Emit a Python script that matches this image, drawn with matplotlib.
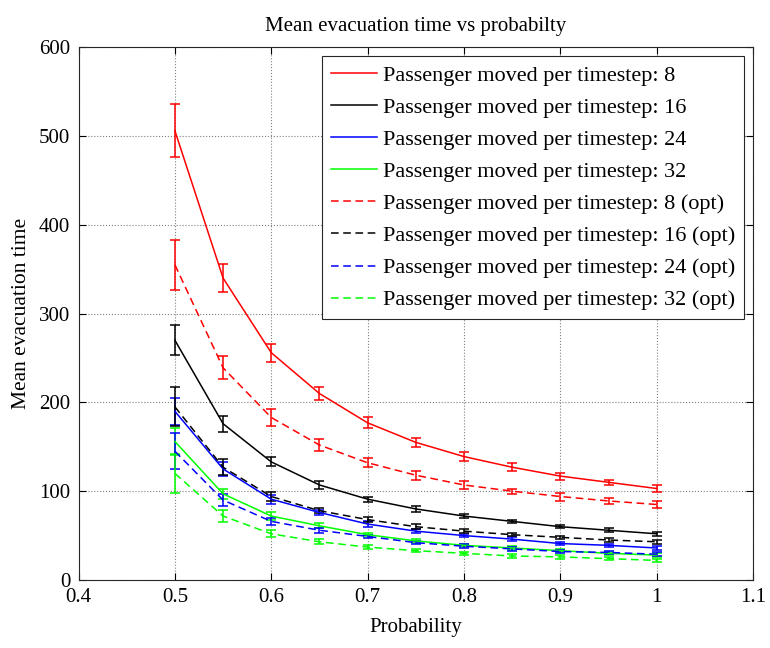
import matplotlib
matplotlib.use("Agg")
import matplotlib.pyplot as plt

plt.rcParams['font.family'] = ['Liberation Serif', 'DejaVu Serif']

# probability values on the x axis
prob = [0.5, 0.55, 0.6, 0.65, 0.7, 0.75, 0.8, 0.85, 0.9, 0.95, 1.0]

# mean evacuation time and error half-widths
t8 = [506, 340, 256, 210, 177, 155, 139, 127, 117, 110, 103]
e8 = [30, 16, 10, 7, 6, 5, 5, 4.5, 4, 3, 4]
t16 = [270, 176, 133, 107, 91, 80, 72, 66, 60, 56, 52]
e16 = [17, 9, 5, 4, 3, 3, 2, 2, 2, 2, 2]
t24 = [190, 125, 91, 76, 63, 55, 50, 46, 41, 39, 36]
e24 = [15, 8, 5, 3, 3, 2, 2, 2, 2, 2, 2]
t32 = [156, 97, 72, 61, 51, 44, 39, 36, 33, 30, 28]
e32 = [15, 6, 4, 3, 2, 2, 2, 2, 2, 2, 2]

t8o = [355, 239, 183, 152, 132, 118, 107, 100, 94, 89, 85]
e8o = [28, 13, 10, 7, 5, 5, 4, 3, 4.5, 3.5, 4]
t16o = [195, 127, 94, 78, 68, 60, 55, 51, 48, 45, 43]
e16o = [22, 9, 5, 3, 3, 3, 2, 2, 2, 2, 2]
t24o = [145, 90, 66, 56, 49, 42, 38, 35, 32, 31, 29]
e24o = [20, 7, 4, 3, 2, 2, 2, 2, 2, 2, 2]
t32o = [120, 72, 52, 43, 37, 33, 30, 27, 26, 24, 22]
e32o = [22, 7, 4, 3, 2, 2, 2, 2, 2, 2, 2]

labels = ['Passenger moved per timestep: 8', 'Passenger moved per timestep: 16',
          'Passenger moved per timestep: 24', 'Passenger moved per timestep: 32',
          'Passenger moved per timestep: 8 (opt)', 'Passenger moved per timestep: 16 (opt)',
          'Passenger moved per timestep: 24 (opt)', 'Passenger moved per timestep: 32 (opt)']

series = [(t8, e8), (t16, e16), (t24, e24), (t32, e32),
          (t8o, e8o), (t16o, e16o), (t24o, e24o), (t32o, e32o)]
colors = ['#ff0000', '#000000', '#0000ff', '#00ff00'] * 2

fig = plt.figure(figsize=(7.7, 6.48), dpi=100)
ax = fig.add_axes([0.102, 0.105, 0.876, 0.822])

handles = []
for i, (y, err) in enumerate(series):
    c = ax.errorbar(prob, y, yerr=err, color=colors[i], lw=1.1, elinewidth=1.1,
                    capsize=3.5, capthick=1.1)
    if i >= 4:
        c[0].set_dashes([5, 3])
    handles.append(c[0])

ax.set_xlim(0.4, 1.1)
ax.set_ylim(0, 600)
ax.set_xticks([0.4, 0.5, 0.6, 0.7, 0.8, 0.9, 1, 1.1])
ax.set_xticklabels(['0.4', '0.5', '0.6', '0.7', '0.8', '0.9', '1', '1.1'])
ax.set_yticks(range(0, 601, 100))
ax.grid(True, linestyle=':', color='#808080', lw=0.8)
ax.tick_params(direction='in', top=True, right=True, labelsize=15, length=5, pad=6)
for s in ax.spines.values():
    s.set_color('#262626')
    s.set_linewidth(0.8)

ax.set_xlabel('Probability', fontsize=15, labelpad=8)
ax.set_ylabel('Mean evacuation time', fontsize=15.5, labelpad=6)
ax.set_title('Mean evacuation time vs probabilty', fontsize=15, pad=12)

leg = ax.legend(handles, labels, loc='upper right', fontsize=16, fancybox=False,
                edgecolor='#262626', framealpha=1, handlelength=2.1,
                labelspacing=0.52, borderaxespad=0.4, handletextpad=0.25,
                borderpad=0.4)
leg.get_frame().set_linewidth(0.8)

fig.savefig('out.png', dpi=100)
